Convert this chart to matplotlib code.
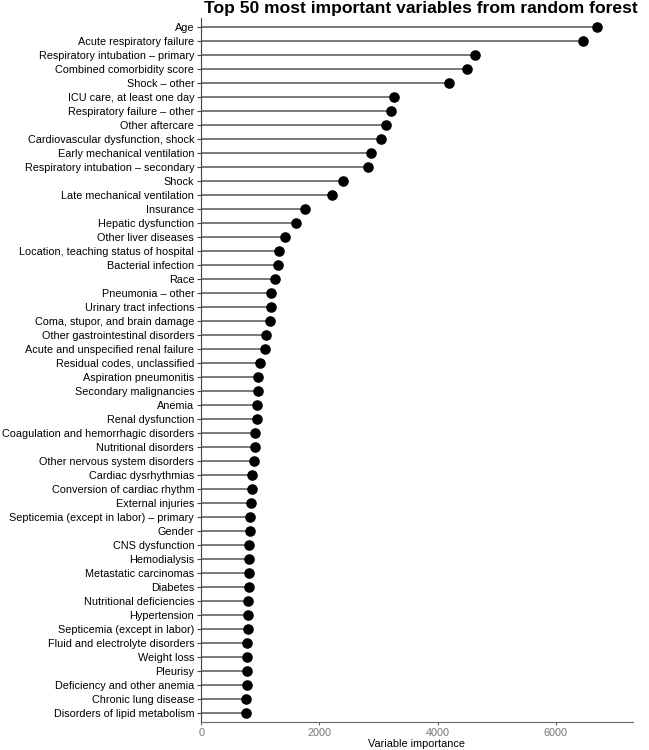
import matplotlib
matplotlib.use("Agg")
import matplotlib.pyplot as plt
import numpy as np

plt.rcParams['font.family'] = ['Liberation Sans', 'DejaVu Sans']

variables = [
    "Age", "Acute respiratory failure", "Respiratory intubation \u2013 primary",
    "Combined comorbidity score", "Shock \u2013 other", "ICU care, at least one day",
    "Respiratory failure \u2013 other", "Other aftercare", "Cardiovascular dysfunction, shock",
    "Early mechanical ventilation", "Respiratory intubation \u2013 secondary", "Shock",
    "Late mechanical ventilation", "Insurance", "Hepatic dysfunction", "Other liver diseases",
    "Location, teaching status of hospital", "Bacterial infection", "Race",
    "Pneumonia \u2013 other", "Urinary tract infections", "Coma, stupor, and brain damage",
    "Other gastrointestinal disorders", "Acute and unspecified renal failure",
    "Residual codes, unclassified", "Aspiration pneumonitis", "Secondary malignancies",
    "Anemia", "Renal dysfunction", "Coagulation and hemorrhagic disorders",
    "Nutritional disorders", "Other nervous system disorders", "Cardiac dysrhythmias",
    "Conversion of cardiac rhythm", "External injuries",
    "Septicemia (except in labor) \u2013 primary", "Gender", "CNS dysfunction",
    "Hemodialysis", "Metastatic carcinomas", "Diabetes", "Nutritional deficiencies",
    "Hypertension", "Septicemia (except in labor)", "Fluid and electrolyte disorders",
    "Weight loss", "Pleurisy", "Deficiency and other anemia", "Chronic lung disease",
    "Disorders of lipid metabolism",
]

importance = [
    6690, 6460, 4630, 4495, 4185, 3265, 3208, 3129, 3033, 2876,
    2825, 2396, 2216, 1748, 1601, 1410, 1308, 1291, 1246, 1178,
    1184, 1167, 1094, 1083, 998, 964, 959, 947, 941, 902,
    902, 891, 857, 851, 840, 834, 823, 812, 812, 806,
    806, 795, 795, 789, 778, 778, 772, 768, 765, 755,
]

xticks = [0, 2000, 4000, 6000]

fig = plt.figure(figsize=(6.49, 7.5), dpi=100)
ax = fig.add_axes([0.31, 0.0373, 0.665, 0.939])

pos = np.arange(len(variables))
ax.hlines(pos, 0, importance, color='#555555', linewidth=1.1)
ax.plot(importance, pos, 'o', color='black', markersize=6.6)

ax.set_yticks(pos)
ax.set_yticklabels(variables, fontsize=7.8)
ax.set_ylim(len(variables) - 0.36, -0.64)
ax.set_xlim(0, 7300)
ax.set_xticks(xticks)
ax.set_xticklabels([str(t) for t in xticks], fontsize=7.8, color='#777777')
ax.set_xlabel("Variable importance", fontsize=7.8, labelpad=1)

for side in ['top', 'right']:
    ax.spines[side].set_visible(False)
ax.spines['left'].set_color('#444444')
ax.spines['bottom'].set_color('#666666')
ax.tick_params(axis='y', length=3, color='#444444', pad=2)
ax.tick_params(axis='x', length=2, color='#666666', pad=2)

fig.text(0.649, 0.999, "Top 50 most important variables from random forest",
         ha='center', va='top', fontsize=12.6, fontweight='bold')

fig.savefig("out.png", dpi=100)
